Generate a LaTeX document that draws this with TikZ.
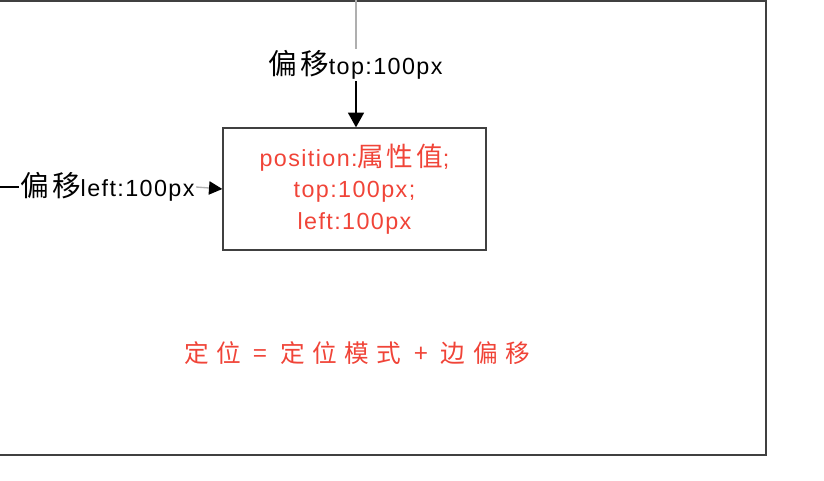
\documentclass[tikz,border=0pt]{standalone}
\usepackage{fontspec}
\setmainfont[LetterSpace=6]{Liberation Sans}
\newfontfamily\cjk[LetterSpace=10]{Noto Sans CJK SC}
\newfontfamily\cjkwide[LetterSpace=30]{Noto Sans CJK SC}
\usetikzlibrary{arrows.meta}
\definecolor{attrred}{RGB}{240,68,56}
\definecolor{framegray}{RGB}{64,64,64}
\definecolor{linegray}{RGB}{175,175,175}

\begin{document}
\begin{tikzpicture}[x=0.75pt, y=-0.75pt,
    lbl/.style={font=\fontsize{17.5}{20}\selectfont, inner sep=1pt},
    tip/.style={-{Triangle[width=12pt,length=11pt]}, line width=1pt}]
    \useasboundingbox (0,0) rectangle (824,481);
    % outer frame (left edge runs off the page)
    \draw[framegray, line width=1.5pt] (-10,1) -- (766,1) -- (766,455) -- (-10,455);

    % positioned box
    \node[draw=framegray, line width=1pt, minimum width=263*0.75pt, minimum height=122*0.75pt,
          text=attrred, align=center, font=\fontsize{17.5}{23.5}\selectfont] (pos) at (354.5,189)
        {position:{\cjk\fontsize{20}{23.5}\selectfont 属性值};\\top:100px;\\left:100px};

    % offset labels
    \node[lbl] (toplbl) at (355.5,65) {{\cjk\fontsize{21.5}{20}\selectfont 偏移}top:100px};
    \node[lbl] (leftlbl) at (107.5,187) {{\cjk\fontsize{21.5}{20}\selectfont 偏移}left:100px};
    \coordinate (topend) at (356,0);
    \coordinate (leftend) at (0,187);

    \draw[linegray, line width=1pt] (topend) -- (toplbl.north -| topend);
    \draw[tip, black] (toplbl.south -| topend) -- (pos.north -| topend);
    \draw[black, line width=1pt] (leftend) -- (leftlbl.west);
    \draw[linegray, line width=1pt, -{Triangle[width=10pt,length=10pt,color=black]}] (leftlbl.east) -- (pos.west);

    % formula
    \node[text=attrred, font=\cjkwide\fontsize{18.5}{20}\selectfont] (formula) at (357,353)
        {定位 = 定位模式 + 边偏移};
\end{tikzpicture}
\end{document}
